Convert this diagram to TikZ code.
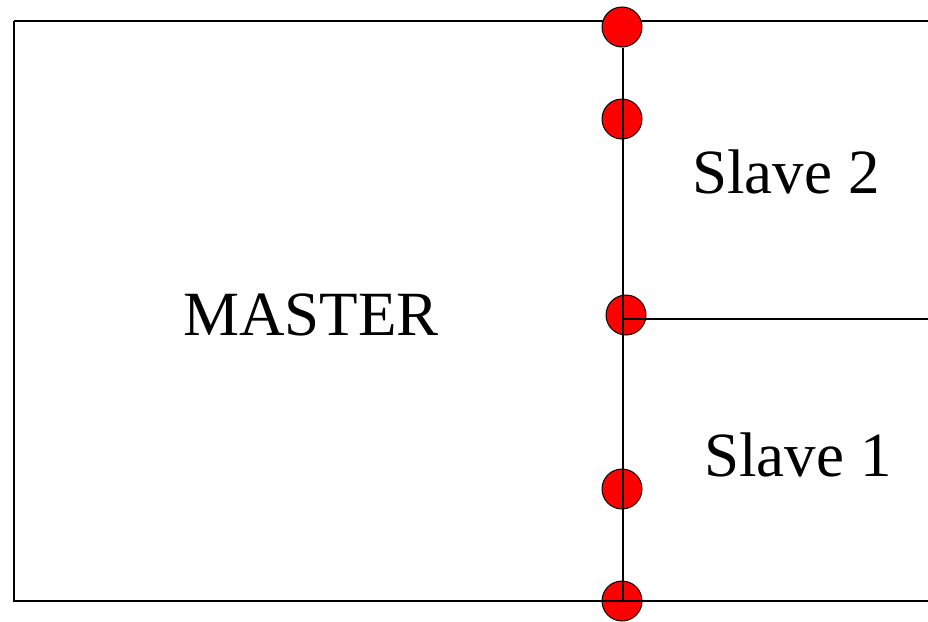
\documentclass[tikz,border=0pt]{standalone}
\usepackage{fontspec}
\setmainfont{Liberation Serif}
\definecolor{dotred}{RGB}{255,0,0}
\begin{document}
\begin{tikzpicture}[x=1pt,y=-1pt,
  wire/.style={line width=1.4pt,black},
  pin/.style={circle,fill=dotred,draw=black,line width=1pt,minimum size=40pt,inner sep=0pt},
  lbl/.style={font=\fontsize{63}{70}\selectfont,inner sep=0pt,anchor=base}]
  \useasboundingbox (0,0) rectangle (928,621);
  % master frame, open on the right
  \coordinate (tl) at (14,21);
  \coordinate (tr) at (928,21);
  \coordinate (bl) at (14,601);
  \coordinate (br) at (928,601);
  \coordinate (bus) at (623,601);
  \coordinate (mr) at (928,319);
  \draw[wire] (tl) -- (tr);
  % connection pins along the bus
  \node[pin] (p5) at (622,601) {};
  \node[pin] (p4) at (622,489) {};
  \node[pin] (p3) at (626,315) {};
  \node[pin] (p2) at (622,119) {};
  \draw[wire] (tl) -- (bl) -- (br);
  \node[pin] (p1) at (622,27) {};
  % bus and slave divider
  \draw[wire] (p1.south -| bus) -- (bus);
  \draw[wire] (623,319) coordinate (mid) -- (mr);
  % labels
  \node[lbl] (master) at (311,335) {MASTER};
  \node[lbl] (s2) at (786,193) {Slave 2};
  \node[lbl] (s1) at (798,476) {Slave 1};
\end{tikzpicture}
\end{document}
